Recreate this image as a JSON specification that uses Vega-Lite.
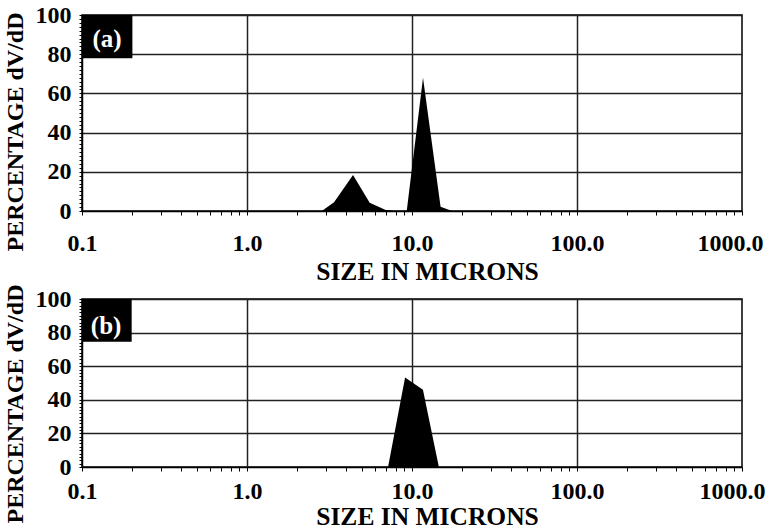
{
  "$schema": "https://vega.github.io/schema/vega-lite/v6.json",
  "background": "white",
  "padding": {"left": 2, "top": 2, "right": 0, "bottom": 0},
  "bounds": "flush",
  "spacing": 88,
  "config": {
    "view": {"stroke": "black", "strokeWidth": 1.5},
    "font": "Liberation Serif",
    "axis": {
      "labelFont": "Liberation Serif",
      "labelFontWeight": "bold",
      "labelFontSize": 24,
      "labelColor": "black",
      "titleFont": "Liberation Serif",
      "titleFontWeight": "bold",
      "titleFontSize": 24,
      "titleColor": "black",
      "domainColor": "black",
      "domainWidth": 1.5,
      "tickColor": "black",
      "tickWidth": 1,
      "tickCount": 200,
      "gridColor": "#222222",
      "gridWidth": 1.5,
      "labelOverlap": false,
      "labelBound": false,
      "labelFlush": false
    }
  },
  "datasets": {
    "runA": [
      {"size": 0.1, "pct": 0},
      {"size": 2.84, "pct": 0},
      {"size": 3.37, "pct": 4.5},
      {"size": 4.39, "pct": 18.4},
      {"size": 5.54, "pct": 4.2},
      {"size": 6.93, "pct": 0.5},
      {"size": 7.8, "pct": 0},
      {"size": 9.29, "pct": 0},
      {"size": 11.66, "pct": 68},
      {"size": 14.9, "pct": 2.2},
      {"size": 17.5, "pct": 0},
      {"size": 1000, "pct": 0}
    ],
    "runB": [
      {"size": 0.1, "pct": 0},
      {"size": 7.16, "pct": 0},
      {"size": 9.08, "pct": 53.2},
      {"size": 11.65, "pct": 46},
      {"size": 14.55, "pct": 0},
      {"size": 1000, "pct": 0}
    ],
    "tags": [
      {"panel": "(a)", "x0": 0.1, "x1": 0.202, "ytop": 100, "ybot": 77.9, "tx": 0.142, "ty": 87.8},
      {"panel": "(b)", "x0": 0.1, "x1": 0.2, "ytop": 100, "ybot": 74.6, "tx": 0.14, "ty": 84.1}
    ]
  },
  "vconcat": [
    {
      "width": 660,
      "height": 196,
      "layer": [
        {
          "data": {"name": "runA"},
          "mark": {"type": "area", "color": "black", "interpolate": "linear"},
          "encoding": {
            "x": {
              "field": "size", "type": "quantitative",
              "scale": {"type": "log", "domain": [0.1, 1000]},
              "axis": {
                "values": [0.1,0.2,0.3,0.4,0.5,0.6,0.7,0.8,0.9,1,2,3,4,5,6,7,8,9,10,20,30,40,50,60,70,80,90,100,200,300,400,500,600,700,800,900,1000],
                "tickCount": 200,
                "labelExpr": "indexof([0.1,1,10,100,1000], datum.value) >= 0 ? format(datum.value, '.1f') : ''",
                "gridOpacity": {"condition": {"test": "indexof([1,10,100], datum.value) >= 0", "value": 1}, "value": 0},
                "labelOffset": {"condition": {"test": "datum.value == 1000", "value": -12}, "value": 0},
                "labelBaseline": "alphabetic",
                "labelPadding": 35,
                "tickSize": 4,
                "title": "SIZE IN MICRONS",
                "titleFontSize": 25.5,
                "titleX": 345,
                "titleY": 68,
                "titleBaseline": "alphabetic",
                "titleAlign": "center"
              }
            },
            "y": {
              "field": "pct", "type": "quantitative",
              "scale": {"domain": [0, 100]},
              "axis": {
                "values": [0,2,4,6,8,10,12,14,16,18,20,22,24,26,28,30,32,34,36,38,40,42,44,46,48,50,52,54,56,58,60,62,64,66,68,70,72,74,76,78,80,82,84,86,88,90,92,94,96,98,100],
                "tickCount": 200,
                "labelExpr": "indexof([0,20,40,60,80,100], datum.value) >= 0 ? format(datum.value, 'd') : ''",
                "gridOpacity": {"condition": {"test": "indexof([20,40,60,80,100], datum.value) >= 0", "value": 1}, "value": 0},
                "tickSize": 3,
                "labelPadding": 8,
                "title": "PERCENTAGE dV/dD",
                "titleX": -60,
                "titleY": 116.5,
                "titleBaseline": "alphabetic",
                "titleAlign": "center"
              }
            }
          }
        },
        {
          "data": {"name": "tags"},
          "transform": [{"filter": "datum.panel == '(a)'"}],
          "mark": {"type": "rect", "color": "black"},
          "encoding": {
            "x": {"field": "x0", "type": "quantitative"},
            "x2": {"field": "x1"},
            "y": {"field": "ytop", "type": "quantitative"},
            "y2": {"field": "ybot"}
          }
        },
        {
          "data": {"name": "tags"},
          "transform": [{"filter": "datum.panel == '(a)'"}],
          "mark": {"type": "text", "color": "white", "font": "Liberation Serif", "fontWeight": "bold", "fontSize": 25, "align": "center", "baseline": "middle"},
          "encoding": {
            "x": {"field": "tx", "type": "quantitative"},
            "y": {"field": "ty", "type": "quantitative"},
            "text": {"field": "panel"}
          }
        }
      ]
    },
    {
      "width": 660,
      "height": 168,
      "layer": [
        {
          "data": {"name": "runB"},
          "mark": {"type": "area", "color": "black", "interpolate": "linear"},
          "encoding": {
            "x": {
              "field": "size", "type": "quantitative",
              "scale": {"type": "log", "domain": [0.1, 1000]},
              "axis": {
                "values": [0.1,0.2,0.3,0.4,0.5,0.6,0.7,0.8,0.9,1,2,3,4,5,6,7,8,9,10,20,30,40,50,60,70,80,90,100,200,300,400,500,600,700,800,900,1000],
                "tickCount": 200,
                "labelExpr": "indexof([0.1,1,10,100,1000], datum.value) >= 0 ? format(datum.value, '.1f') : ''",
                "gridOpacity": {"condition": {"test": "indexof([1,10,100], datum.value) >= 0", "value": 1}, "value": 0},
                "labelOffset": {"condition": {"test": "datum.value == 1000", "value": -10}, "value": 0},
                "labelBaseline": "alphabetic",
                "labelPadding": 27,
                "tickSize": 4,
                "title": "SIZE IN MICRONS",
                "titleFontSize": 25.5,
                "titleX": 345,
                "titleY": 57,
                "titleBaseline": "alphabetic",
                "titleAlign": "center"
              }
            },
            "y": {
              "field": "pct", "type": "quantitative",
              "scale": {"domain": [0, 100]},
              "axis": {
                "values": [0,2,4,6,8,10,12,14,16,18,20,22,24,26,28,30,32,34,36,38,40,42,44,46,48,50,52,54,56,58,60,62,64,66,68,70,72,74,76,78,80,82,84,86,88,90,92,94,96,98,100],
                "tickCount": 200,
                "labelExpr": "indexof([0,20,40,60,80,100], datum.value) >= 0 ? format(datum.value, 'd') : ''",
                "gridOpacity": {"condition": {"test": "indexof([20,40,60,80,100], datum.value) >= 0", "value": 1}, "value": 0},
                "tickSize": 3,
                "labelPadding": 8,
                "title": "PERCENTAGE dV/dD",
                "titleX": -60,
                "titleY": 104.5,
                "titleBaseline": "alphabetic",
                "titleAlign": "center"
              }
            }
          }
        },
        {
          "data": {"name": "tags"},
          "transform": [{"filter": "datum.panel == '(b)'"}],
          "mark": {"type": "rect", "color": "black"},
          "encoding": {
            "x": {"field": "x0", "type": "quantitative"},
            "x2": {"field": "x1"},
            "y": {"field": "ytop", "type": "quantitative"},
            "y2": {"field": "ybot"}
          }
        },
        {
          "data": {"name": "tags"},
          "transform": [{"filter": "datum.panel == '(b)'"}],
          "mark": {"type": "text", "color": "white", "font": "Liberation Serif", "fontWeight": "bold", "fontSize": 25, "align": "center", "baseline": "middle"},
          "encoding": {
            "x": {"field": "tx", "type": "quantitative"},
            "y": {"field": "ty", "type": "quantitative"},
            "text": {"field": "panel"}
          }
        }
      ]
    }
  ]
}
